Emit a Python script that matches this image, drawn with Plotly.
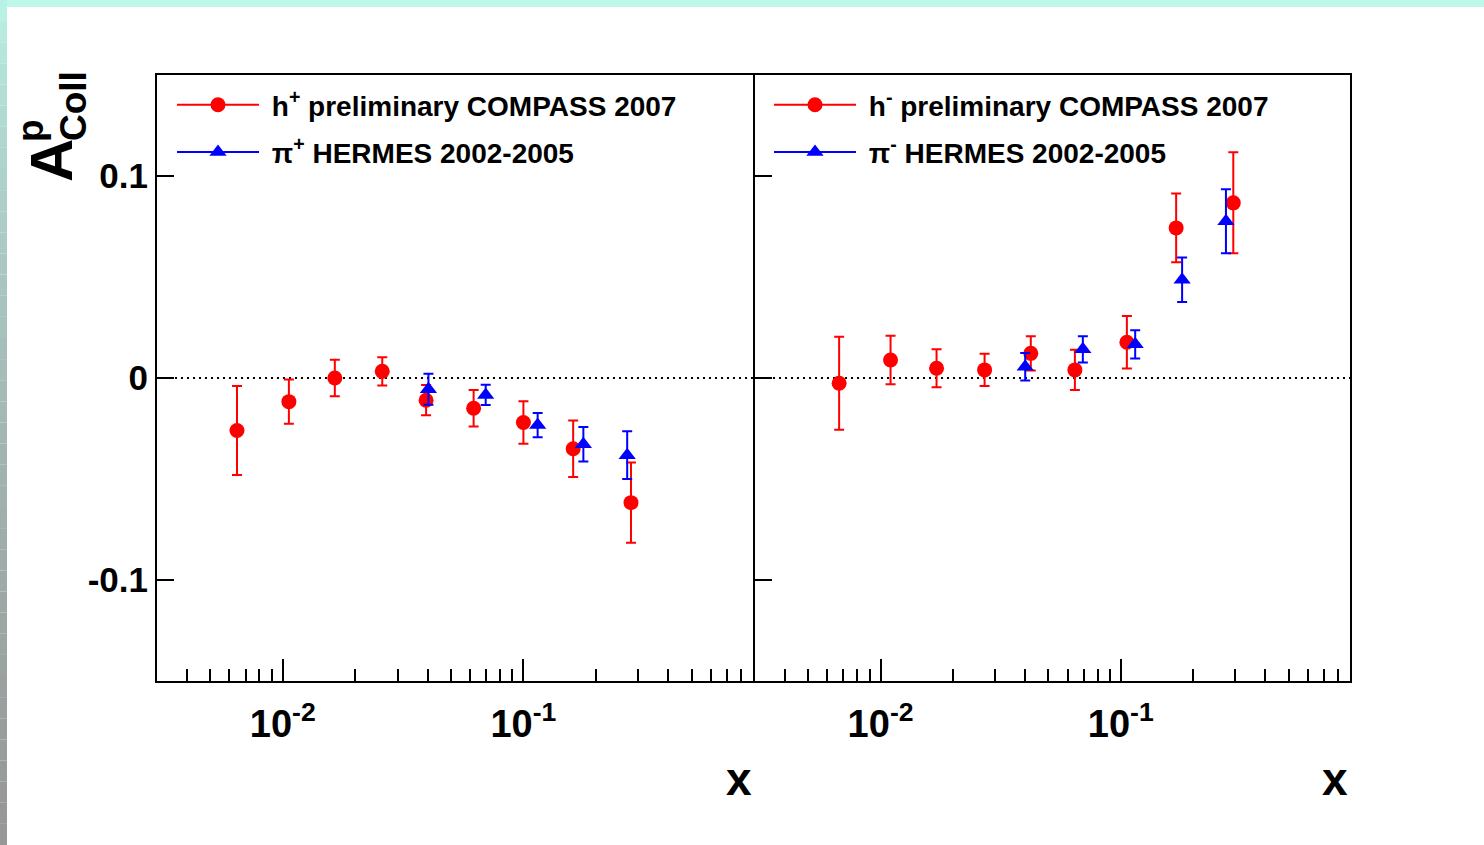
import math
import plotly.graph_objects as go

# --- data -------------------------------------------------------------
# left panel: positive hadrons / pions
hp_x = [0.00645, 0.0106, 0.01645, 0.0259, 0.0394, 0.0621, 0.100, 0.161, 0.280]
hp_y = [-0.026, -0.0117, 0.0, 0.0033, -0.011, -0.015, -0.022, -0.035, -0.0617]
hp_err = [0.022, 0.011, 0.009, 0.007, 0.0075, 0.009, 0.0105, 0.014, 0.0199]

pip_x = [0.0403, 0.0697, 0.1146, 0.1775, 0.270]
pip_y = [-0.0056, -0.0084, -0.0233, -0.0328, -0.0382]
pip_err = [0.0077, 0.005, 0.006, 0.0085, 0.0118]

# right panel: negative hadrons / pions
hm_x = [0.00672, 0.0110, 0.0171, 0.0271, 0.0422, 0.0644, 0.106, 0.170, 0.294]
hm_y = [-0.0026, 0.0089, 0.0048, 0.004, 0.0122, 0.004, 0.0177, 0.0743, 0.0867]
hm_err = [0.023, 0.012, 0.0094, 0.008, 0.0085, 0.010, 0.013, 0.017, 0.025]

pim_x = [0.040, 0.0695, 0.1148, 0.180, 0.274]
pim_y = [0.0056, 0.0142, 0.0167, 0.0486, 0.0776]
pim_err = [0.0068, 0.0065, 0.007, 0.011, 0.0159]

x_range = [0.003, 0.9]
y_range = [-0.15, 0.15]
y_ticks = [-0.1, 0, 0.1]
y_ticktext = ["-0.1", "0", "0.1"]
x_ticks = [0.01, 0.1]
x_ticktext = ["10<sup>-2</sup>", "10<sup>-1</sup>"]

NB = "\u00a0"
label_hp = NB + "h<sup>+</sup> preliminary COMPASS 2007"
label_pip = NB + "π<sup>+</sup> HERMES 2002-2005"
label_hm = NB + "h<sup>-</sup> preliminary COMPASS 2007"
label_pim = NB + "π<sup>-</sup> HERMES 2002-2005"

# --- styling ----------------------------------------------------------
W, H = 1484, 845
RED = "#ff0000"
BLUE = "#0000ff"
FONT = "Liberation Sans, Arial, sans-serif"


def px_x(p):
    return p / W


def px_y(p):
    return 1 - p / H


left_dom = [px_x(157), px_x(753)]
right_dom = [px_x(755), px_x(1350)]
y_dom = [px_y(681), px_y(75)]

minor_vals = [m * 10.0 ** e for e in (-3, -2, -1) for m in range(2, 10)]

fig = go.Figure()


def add_series(x, y, err, color, symbol, size, xa, ya, name, legend):
    fig.add_trace(go.Scatter(
        x=x, y=y, mode="markers", xaxis=xa, yaxis=ya,
        marker=dict(color=color, symbol=symbol, size=size, line=dict(width=0)),
        error_y=dict(type="data", array=err, color=color, thickness=2, width=5),
        showlegend=False, hoverinfo="x+y",
    ))
    # legend entry (line + marker sample)
    fig.add_trace(go.Scatter(
        x=[None], y=[None], mode="lines+markers", xaxis=xa, yaxis=ya,
        line=dict(color=color, width=2),
        marker=dict(color=color, symbol=symbol, size=size),
        name=name, legend=legend, legendgroup=name, showlegend=True,
    ))


add_series(hp_x, hp_y, hp_err, RED, "circle", 15, "x", "y", label_hp, "legend")
add_series(pip_x, pip_y, pip_err, BLUE, "triangle-up", 15, "x", "y", label_pip, "legend")
add_series(hm_x, hm_y, hm_err, RED, "circle", 15, "x2", "y2", label_hm, "legend2")
add_series(pim_x, pim_y, pim_err, BLUE, "triangle-up", 15, "x2", "y2", label_pim, "legend2")

xaxis_common = dict(
    type="log", range=[math.log10(v) for v in x_range],
    showline=True, linecolor="black", linewidth=2, mirror=True,
    ticks="inside", ticklen=22, tickwidth=1.5, tickcolor="black",
    tickvals=x_ticks, ticktext=x_ticktext, ticklabelstandoff=8,
    tickfont=dict(family=FONT, size=38, color="black", weight="bold"),
    minor=dict(ticks="inside", ticklen=12, tickwidth=1.5, tickcolor="black",
               tickvals=minor_vals, showgrid=False),
    showgrid=False, zeroline=False,
)
yaxis_common = dict(
    range=y_range, showline=True, linecolor="black", linewidth=2, mirror=True,
    ticks="inside", ticklen=17, tickwidth=1.5, tickcolor="black",
    tickvals=y_ticks, ticktext=y_ticktext,
    tickfont=dict(family=FONT, size=35, color="black", weight="bold"),
    showgrid=False, zeroline=False, domain=y_dom,
)

legend_common = dict(
    xanchor="left", yanchor="top", bgcolor="rgba(0,0,0,0)", itemwidth=82,
    traceorder="grouped", tracegroupgap=8,
    font=dict(family=FONT, size=28, color="black", weight="bold"),
)

fig.update_layout(
    width=W, height=H, margin=dict(l=0, r=0, t=0, b=0),
    paper_bgcolor="white", plot_bgcolor="white",
    xaxis=dict(xaxis_common, domain=left_dom, anchor="y"),
    yaxis=dict(yaxis_common, anchor="x"),
    xaxis2=dict(xaxis_common, domain=right_dom, anchor="y2"),
    yaxis2=dict(yaxis_common, anchor="x2", showticklabels=False),
    legend=dict(legend_common, x=px_x(172), y=px_y(80)),
    legend2=dict(legend_common, x=px_x(769), y=px_y(80)),
    showlegend=True,
)

# dotted zero reference line in each panel
for xr, yr in (("x", "y"), ("x2", "y2")):
    fig.add_shape(type="line", xref=xr, yref=yr, x0=x_range[0], x1=x_range[1],
                  y0=0, y1=0, line=dict(color="black", width=2, dash="2px,4px"),
                  layer="below")

# page frame: aqua strip on top, aqua-to-grey strip on the left
fig.add_shape(type="rect", xref="paper", yref="paper", x0=0, x1=1,
              y0=px_y(7), y1=1, fillcolor="#bdf8eb", line=dict(width=0))
n_steps = 40
top_c = (189, 248, 235)
bot_c = (150, 150, 150)
for i in range(n_steps):
    t = ((i + 0.5) / n_steps) ** 0.6
    c = tuple(int(round(a + (b - a) * t)) for a, b in zip(top_c, bot_c))
    fig.add_shape(type="rect", xref="paper", yref="paper",
                  x0=0, x1=px_x(7),
                  y0=1 - (i + 1) / n_steps, y1=1 - i / n_steps,
                  fillcolor="rgb(%d,%d,%d)" % c, line=dict(width=0))

# axis titles
title_font = dict(family=FONT, color="black", weight="bold")
fig.add_annotation(text="A", xref="paper", yref="paper", x=px_x(51), y=px_y(161),
                   xanchor="center", yanchor="middle",
                   showarrow=False, textangle=-90, font=dict(title_font, size=60))
fig.add_annotation(text="p", xref="paper", yref="paper", x=px_x(30), y=px_y(130),
                   xanchor="center", yanchor="middle",
                   showarrow=False, textangle=-90, font=dict(title_font, size=37))
fig.add_annotation(text="Coll", xref="paper", yref="paper", x=px_x(73), y=px_y(106),
                   xanchor="center", yanchor="middle",
                   showarrow=False, textangle=-90, font=dict(title_font, size=37))
for xc in (739, 1335):
    fig.add_annotation(text="x", xref="paper", yref="paper", x=px_x(xc), y=px_y(779),
                       xanchor="center", yanchor="middle", showarrow=False,
                       font=dict(title_font, size=46))

fig.write_html("out.html")
